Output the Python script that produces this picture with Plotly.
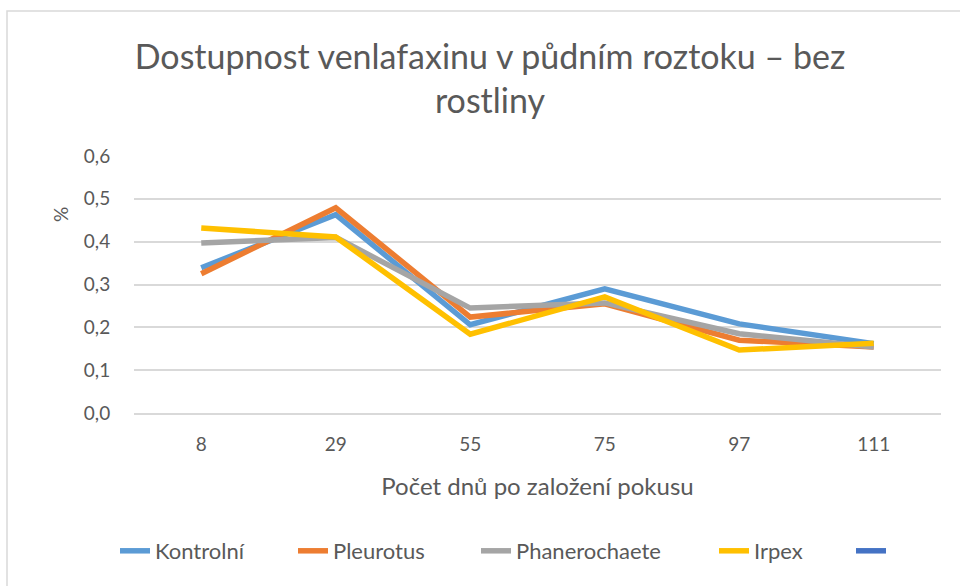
import plotly.graph_objects as go

days = ["8", "29", "55", "75", "97", "111"]
kontrolni = [0.339, 0.463, 0.206, 0.290, 0.208, 0.162]
pleurotus = [0.325, 0.479, 0.224, 0.255, 0.170, 0.154]
phanerochaete = [0.397, 0.410, 0.245, 0.257, 0.185, 0.154]
irpex = [0.432, 0.411, 0.184, 0.271, 0.147, 0.163]
empty = [None, None, None, None, None, None]
y_ticks = [0.0, 0.1, 0.2, 0.3, 0.4, 0.5, 0.6]
y_tick_labels = ["0,0", "0,1", "0,2", "0,3", "0,4", "0,5", "0,6"]

series = [
    ("Kontrolní", kontrolni, "#5B9BD5"),
    ("Pleurotus", pleurotus, "#ED7D31"),
    ("Phanerochaete", phanerochaete, "#A5A5A5"),
    ("Irpex", irpex, "#FFC000"),
    ("", empty, "#4472C4"),
]
# legend text start positions (px) for each entry
legend_text_x = [157, 335, 518, 756, 893]

FONT = "Lato, 'Open Sans', sans-serif"
TXT = "#595959"

L, R, T, B = 134, 941, 156, 413
PW, PH = R - L, B - T

fig = go.Figure()
legend_layouts = {}
for i, (name, vals, col) in enumerate(series):
    lname = "legend" if i == 0 else f"legend{i + 1}"
    fig.add_trace(go.Scatter(
        x=days, y=vals, name=name, mode="lines",
        line=dict(color=col, width=5.5, shape="linear"),
        showlegend=True, legend=lname,
    ))
    legend_layouts[lname] = dict(
        orientation="h", x=(legend_text_x[i] - 42) / 960, xanchor="left",
        xref="container",
        y=1 - 551 / 586, yanchor="middle", yref="container",
        font=dict(family=FONT, size=22, color=TXT),
        bgcolor="rgba(0,0,0,0)",
    )

fig.update_layout(
    width=960, height=586,
    margin=dict(l=L, r=960 - R, t=T, b=586 - B, autoexpand=False),
    paper_bgcolor="white", plot_bgcolor="white",
    font=dict(family=FONT, color=TXT, size=19),
    title=dict(
        text="Dostupnost venlafaxinu v půdním roztoku – bez<br>rostliny",
        x=490 / 960, xanchor="center", xref="container",
        y=1 - 68.5 / 586, yanchor="middle", yref="container",
        font=dict(family=FONT, size=34, color=TXT),
    ),
    xaxis=dict(
        type="category", showgrid=False, zeroline=False,
        showline=True, linecolor="#D9D9D9", linewidth=1.5,
        ticks="outside", ticklen=13, tickcolor="rgba(0,0,0,0)",
        tickfont=dict(size=19, color=TXT, family=FONT),
        title=dict(text="Počet dnů po založení pokusu",
                   font=dict(size=24, color=TXT, family=FONT), standoff=25),
        range=[-0.5, 5.5],
    ),
    yaxis=dict(
        range=[0, 0.6], tickvals=y_ticks, ticktext=y_tick_labels,
        showgrid=True, gridcolor="#D9D9D9", gridwidth=1.5,
        zeroline=False, showline=False,
        ticks="outside", ticklen=19, tickcolor="rgba(0,0,0,0)",
        tickfont=dict(size=19, color=TXT, family=FONT),
    ),
    annotations=[dict(
        text="%", x=(60 - L) / PW, y=(B - 215) / PH, xref="paper", yref="paper",
        showarrow=False, textangle=-90,
        font=dict(size=19, color=TXT, family=FONT),
        xanchor="center", yanchor="middle",
    )],
    shapes=[dict(
        type="rect", xref="paper", yref="paper",
        x0=(7 - L) / PW, x1=(975 - L) / PW,
        y0=(B - 600) / PH, y1=(B - 11) / PH,
        line=dict(color="#D9D9D9", width=1.5), fillcolor="rgba(0,0,0,0)",
        layer="below",
    )],
)
fig.update_layout(**legend_layouts)

fig.write_html("out.html", post_script="document.body.style.margin='0';",
               config={"displayModeBar": False})
